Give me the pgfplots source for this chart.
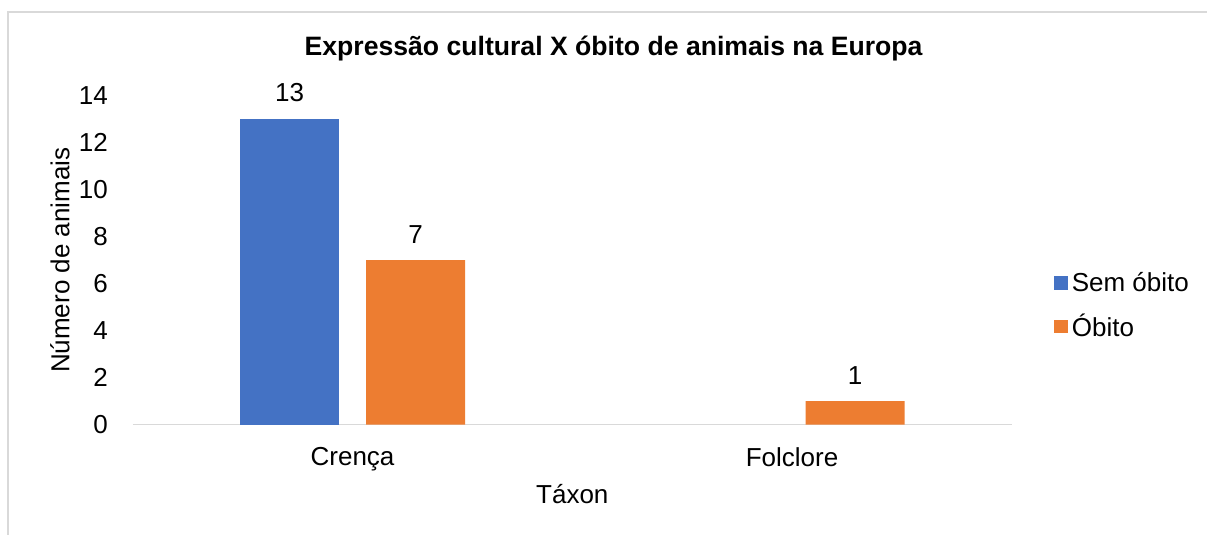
\documentclass[border=0pt]{standalone}
\usepackage{fontspec}
\setmainfont{Liberation Sans}
\usepackage{pgfplots}
\pgfplotsset{compat=1.18}
\definecolor{xlblue}{HTML}{4472C4}
\definecolor{xlorange}{HTML}{ED7D31}
\definecolor{xlgrid}{HTML}{D9D9D9}
\begin{document}
\begin{tikzpicture}[x=1pt,y=1pt]
\useasboundingbox (0,0) rectangle (603.5,267.5);
\draw[xlgrid, line width=0.8pt] (4,0) -- (4,261.5) -- (603.5,261.5);
\begin{axis}[
  at={(66.4pt,55.15pt)}, anchor=south west,
  scale only axis, width=439.5pt, height=164.5pt,
  font=\fontsize{13}{15}\selectfont,
  /pgf/number format/assume math mode=true,
  ybar=13.5pt, bar width=49.5pt,
  xmin=-0.5, xmax=1.5, ymin=0, ymax=14,
  xtick={0,1}, xticklabels={Crença,Folclore},
  ytick={0,2,...,14},
  major tick length=0pt,
  axis lines*=left,
  x axis line style={draw=xlgrid, line width=0.8pt},
  y axis line style={draw=none},
  xticklabel style={yshift=-8pt},
  yticklabel style={xshift=-9pt},
  every axis title shift=0pt,
  title={\bfseries Expressão cultural X óbito de animais na Europa},
  title style={at={(axis description cs:0.547,1.148)}, anchor=center, yshift=-1pt, font=\fontsize{13.3}{15}\selectfont},
  xlabel={Táxon},
  xlabel style={at={(axis description cs:0.5,-0.211)}, anchor=center},
  ylabel={Número de animais},
  ylabel style={at={(axis description cs:-0.083,0.5)}, anchor=center, rotate=0},
  nodes near coords,
  every node near coord/.append style={font=\fontsize{13}{15}\selectfont, yshift=5pt},
  legend style={draw=none, at={(axis description cs:1.041,0.362)}, anchor=west,
    row sep=5.8pt, font=\fontsize{13}{15}\selectfont, fill=none},
  legend cell align=left,
  legend image code/.code={\fill[#1] (0pt,-3.3pt) rectangle (6.8pt,3.3pt);},
]
\addplot[fill=xlblue, draw=none] coordinates {(0,13)};
\addplot[fill=xlorange, draw=none] coordinates {(0,7) (1,1)};
\legend{Sem óbito, Óbito}
\end{axis}
\end{tikzpicture}
\end{document}
